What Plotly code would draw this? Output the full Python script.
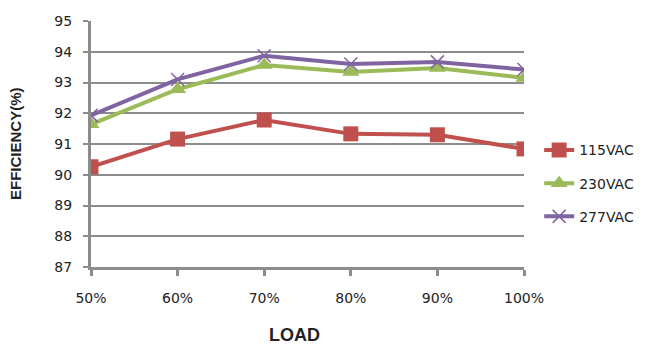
import plotly.graph_objects as go

loads = [50, 60, 70, 80, 90, 100]
load_labels = ["50%", "60%", "70%", "80%", "90%", "100%"]
eff_115 = [90.26, 91.16, 91.78, 91.33, 91.30, 90.84]
eff_230 = [91.64, 92.78, 93.57, 93.34, 93.47, 93.15]
eff_277 = [91.93, 93.10, 93.87, 93.60, 93.67, 93.42]
y_ticks = [87, 88, 89, 90, 91, 92, 93, 94, 95]

grid = "#8c8c8c"
fig = go.Figure()
fig.add_trace(go.Scatter(x=loads, y=eff_115, name="115VAC", mode="lines+markers",
                         legendgroup="a",
                         line=dict(color="#c0504d", width=4),
                         marker=dict(symbol="square", size=15, color="#c0504d")))
fig.add_trace(go.Scatter(x=loads, y=eff_230, name="230VAC", mode="lines+markers",
                         legendgroup="b",
                         line=dict(color="#9bbb59", width=4),
                         marker=dict(symbol="triangle-up", size=15, color="#9bbb59")))
fig.add_trace(go.Scatter(x=loads, y=eff_277, name="277VAC", mode="lines+markers",
                         legendgroup="c",
                         line=dict(color="#8064a2", width=4),
                         marker=dict(symbol="x-thin", size=13, color="#8064a2",
                                     line=dict(color="#8064a2", width=1.5))))

fig.update_layout(
    width=648, height=355,
    margin=dict(l=83, r=132, t=13, b=96, autoexpand=False),
    paper_bgcolor="white", plot_bgcolor="white",
    font=dict(family="DejaVu Sans, Verdana, sans-serif", size=14, color="#222"),
    legend=dict(x=1.035, y=0.34, xanchor="left", yanchor="middle",
                font=dict(size=14, color="#222"), tracegroupgap=12,
                bgcolor="rgba(0,0,0,0)"),
    xaxis=dict(range=[50, 100], tickvals=loads, ticktext=load_labels,
               automargin=False,
               showgrid=False, zeroline=False,
               showline=True, linecolor=grid, linewidth=3,
               ticks="outside", ticklen=6, tickwidth=3, tickcolor=grid,
               tickfont=dict(size=14), ticklabelstandoff=10),
    yaxis=dict(range=[87, 95], tickvals=y_ticks, automargin=False,
               showgrid=True, gridcolor=grid, gridwidth=2, zeroline=False,
               showline=True, linecolor=grid, linewidth=3,
               ticks="outside", ticklen=5, tickwidth=2, tickcolor=grid,
               tickfont=dict(size=14), ticklabelstandoff=8),
    annotations=[
        dict(text="<b>LOAD</b>", xref="paper", yref="paper", x=0.469, y=-0.2764,
             xanchor="center", yanchor="middle", showarrow=False,
             font=dict(family="Liberation Sans Narrow, Arial Narrow, sans-serif", size=18, color="#222")),
        dict(text="<b>EFFICIENCY(%)</b>", xref="paper", yref="paper", x=-0.1755, y=0.5,
             xanchor="center", yanchor="middle", showarrow=False, textangle=-90,
             font=dict(family="Liberation Sans, Arial, sans-serif", size=15, color="#222")),
    ],
)
fig.write_html("out.html")
